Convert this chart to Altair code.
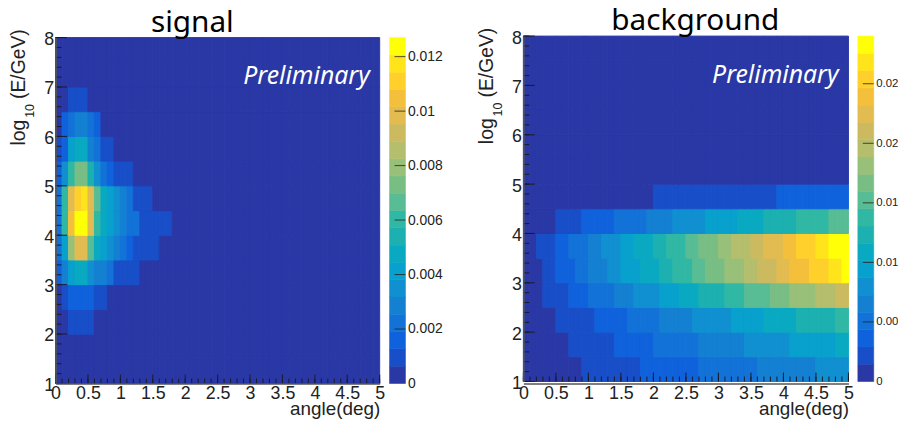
import altair as alt
import pandas as pd

# ---- palette of the 20 contour levels (bottom to top of the colour bar)
palette = ["#2A38A6", "#184FC8", "#1062DC", "#1272D8", "#1480D2", "#1090D0", "#08A0CC", "#0AA9C2",
           "#1CB0B0", "#30B8A4", "#58BC94", "#78BE84", "#98C078", "#B4BE6C", "#CCBA60", "#E2BC50",
           "#F4C03C", "#FFD02C", "#FFE41C", "#FFFF08"]

# ---- signal: colour level of each 0.1 deg column, one list per 0.5 wide energy row (rest of row is level 0)
sig_2_0 = [0, 0, 1, 1, 1, 1]
sig_2_5 = [0, 1, 2, 2, 2, 2, 1, 1]
sig_3_0 = [2, 4, 6, 7, 7, 5, 4, 4, 3, 1, 1, 1, 1]
sig_3_5 = [3, 6, 12, 15, 15, 10, 7, 6, 5, 4, 3, 2, 1, 1, 1, 1]
sig_4_0 = [3, 9, 16, 19, 19, 15, 9, 7, 6, 5, 4, 3, 3, 1, 1, 1, 1, 1]
sig_4_5 = [3, 9, 15, 17, 18, 15, 10, 7, 6, 5, 4, 3, 1, 1, 1]
sig_5_0 = [2, 5, 9, 11, 11, 8, 5, 3, 2, 1, 1, 1]
sig_5_5 = [1, 2, 6, 7, 7, 4, 3, 1, 1]
sig_6_0 = [0, 2, 3, 4, 4, 3, 2]
sig_6_5 = [0, 0, 1, 1, 1]
signal_rows = {2.0: sig_2_0, 2.5: sig_2_5, 3.0: sig_3_0, 3.5: sig_3_5, 4.0: sig_4_0, 4.5: sig_4_5,
               5.0: sig_5_0, 5.5: sig_5_5, 6.0: sig_6_0, 6.5: sig_6_5}

# ---- background: same layout
bkg_1_0 = [0]*9 + [1]*9 + [2]*9 + [3]*9 + [4]*9 + [5]*5
bkg_1_5 = [0]*7 + [1]*7 + [2]*6 + [3]*7 + [4]*7 + [5]*7 + [6]*7 + [7]*2
bkg_2_0 = [0]*5 + [1]*6 + [2]*5 + [3]*5 + [4]*5 + [5]*6 + [6]*5 + [7]*5 + [8]*6 + [9]*2
bkg_2_5 = [0]*3 + [1]*4 + [2]*3 + [3]*4 + [4]*3 + [5]*4 + [6]*3 + [7]*3 + [8]*4 + [9]*3 + [10]*4 + [11]*3 + [12]*4 + [13]*3 + [14]*2
bkg_3_0 = [0]*3 + [1]*2 + [2]*3 + [3]*2 + [4]*3 + [5]*2 + [6]*3 + [7]*3 + [8]*2 + [9]*3 + [10]*2 + [11]*3 + [12]*3 + [13]*2 + [14]*3 + [15]*2 + [16]*3 + [17]*3 + [18]*2 + [19]*1
bkg_3_5 = [0]*2 + [1]*3 + [2]*2 + [3]*3 + [4]*2 + [5]*3 + [6]*2 + [7]*3 + [8]*2 + [9]*3 + [10]*2 + [11]*3 + [12]*2 + [13]*3 + [14]*2 + [15]*3 + [16]*2 + [17]*3 + [18]*2 + [19]*3
bkg_4_0 = [0]*5 + [1]*4 + [2]*5 + [3]*5 + [4]*4 + [5]*5 + [6]*5 + [7]*4 + [8]*5 + [9]*5 + [10]*3
bkg_4_5 = [0]*20 + [1]*19 + [2]*11
background_rows = {1.0: bkg_1_0, 1.5: bkg_1_5, 2.0: bkg_2_0, 2.5: bkg_2_5, 3.0: bkg_3_0, 3.5: bkg_3_5,
                   4.0: bkg_4_0, 4.5: bkg_4_5}

signal_max = 0.0127
background_max = 0.029
signal_ticks = [0, 0.002, 0.004, 0.006, 0.008, 0.01, 0.012]
signal_tick_labels = ["0", "0.002", "0.004", "0.006", "0.008", "0.01", "0.012"]
background_ticks = [0, 0.005, 0.01, 0.015, 0.02, 0.025]
background_tick_labels = ["0", "0.00", "0.01", "0.01", "0.02", "0.02"]

x_major = [0, 0.5, 1, 1.5, 2, 2.5, 3, 3.5, 4, 4.5, 5]
x_minor = [i / 10 for i in range(51)]
y_major = [1, 2, 3, 4, 5, 6, 7, 8]
y_minor = [1 + i / 5 for i in range(36)]

SANS = "Liberation Sans"
INK = "#222222"
PH = 351


def cells(rows, vmax):
    recs = []
    for yi in range(14):
        low = 1 + yi * 0.5
        row = rows.get(low, [])
        for xi in range(50):
            level = row[xi] if xi < len(row) else 0
            recs.append({"a0": xi / 10, "a1": (xi + 1) / 10, "e0": low, "e1": low + 0.5,
                         "v": (level + 0.5) * vmax / 20})
    return pd.DataFrame(recs)


def label(text, x, y, **kw):
    return alt.Chart(pd.DataFrame({"t": [text]})).mark_text(**kw).encode(
        text="t:N", x=alt.value(x), y=alt.value(y))


def panel(rows, vmax, y_range, width, title, title_x):
    xs = alt.Scale(domain=[0, 5], nice=False, zero=False)
    ys = alt.Scale(domain=[1, 8], nice=False, zero=False, range=y_range)
    cs = alt.Scale(type="quantize", domain=[0, vmax], range=palette)
    xa = alt.Axis(
        title="angle(deg)", titleFont=SANS, titleFontSize=19, titleFontWeight="normal", titleColor=INK,
        titleAnchor="end", titleAlign="right", titleX=width, titleY=31, titleBaseline="alphabetic",
        labelFont=SANS, labelFontSize=18, labelColor=INK, labelPadding=1, labelOverlap=False,
        labelFlush=False, values=x_major, ticks=False, grid=False, domainColor="#555555", domainWidth=1.5,
        format="~g", zindex=1)
    ya = alt.Axis(
        title=None, labelFont=SANS, labelFontSize=18, labelColor=INK, labelPadding=2, labelOffset=2,
        values=y_major, ticks=False, grid=False, domainColor="#555555", domainWidth=1.5, format="d",
        labelFlush=False, zindex=1)
    heat = alt.Chart(cells(rows, vmax)).mark_rect(strokeWidth=1, opacity=1).encode(
        x=alt.X("a0:Q", scale=xs, axis=xa),
        x2="a1:Q",
        y=alt.Y("e0:Q", scale=ys, axis=ya),
        y2="e1:Q",
        color=alt.Color("v:Q", scale=cs, legend=None),
        stroke=alt.Stroke("v:Q", scale=cs, legend=None),
    )

    def xticks(vals, length):
        return alt.Chart(pd.DataFrame({"p": vals})).mark_rule(color="#1a1a2a", strokeWidth=1).encode(
            x=alt.X("p:Q", scale=xs, axis=xa), y=alt.value(y_range[0]), y2=alt.value(y_range[0] - length))

    def yticks(vals, length):
        return alt.Chart(pd.DataFrame({"p": vals})).mark_rule(color="#1a1a2a", strokeWidth=1).encode(
            y=alt.Y("p:Q", scale=ys, axis=ya), x=alt.value(0), x2=alt.value(length))

    base = y_range[1] - 2
    return alt.layer(
        heat,
        xticks(x_minor, 5), xticks(x_major, 9),
        yticks(y_minor, 6), yticks(y_major, 11.5),
        label("Preliminary", width - 10, base + 49, font="Noto Sans", fontStyle="italic", fontSize=25,
              color="white", align="right", baseline="alphabetic"),
        label(title, title_x, base - 4, font="Noto Sans", fontSize=30, color="black", align="center",
              baseline="alphabetic"),
        label("log", -30.5, base + 111, font=SANS, fontSize=19.5, color=INK, angle=270, align="left",
              baseline="alphabetic"),
        label("10", -21.5, base + 83, font=SANS, fontSize=12.5, color=INK, angle=270, align="left",
              baseline="alphabetic"),
        label("(E/GeV)", -30.5, base + 64, font=SANS, fontSize=19.5, color=INK, angle=270, align="left",
              baseline="alphabetic"),
    ).properties(width=width, height=PH)


def colourbar(vmax, y_range, ticks, tick_labels, label_size):
    expr = "[" + ",".join("'%s'" % s for s in tick_labels) + "][indexof(%s, datum.value)]" % (
        "[" + ",".join(str(t) for t in ticks) + "]")
    ys = alt.Scale(domain=[0, vmax], nice=False, zero=False, range=y_range)
    cs = alt.Scale(type="quantize", domain=[0, vmax], range=palette)
    ya = alt.Axis(
        title=None, orient="right", values=ticks, labelExpr=expr, ticks=False, domain=False, grid=False,
        labelFont=SANS, labelFontSize=label_size, labelColor=INK, labelPadding=2, labelFlush=False)
    bands = pd.DataFrame({"b0": [i * vmax / 20 for i in range(20)],
                          "b1": [(i + 1) * vmax / 20 for i in range(20)]})
    bands["v"] = (bands.b0 + bands.b1) / 2
    bar = alt.Chart(bands).mark_rect(strokeWidth=0.6).encode(
        y=alt.Y("b0:Q", scale=ys, axis=ya),
        y2="b1:Q",
        x=alt.value(0), x2=alt.value(16),
        color=alt.Color("v:Q", scale=cs, legend=None),
        stroke=alt.Stroke("v:Q", scale=cs, legend=None),
    )
    marks = alt.Chart(pd.DataFrame({"p": ticks[1:]})).mark_rule(color="#222222", opacity=0.8, strokeWidth=1).encode(
        y=alt.Y("p:Q", scale=ys, axis=ya), x=alt.value(5), x2=alt.value(16))
    return alt.layer(bar, marks).properties(width=16, height=PH)


left = alt.hconcat(
    panel(signal_rows, signal_max, [351, 2], 327, "signal", 138),
    colourbar(signal_max, [351, 2], signal_ticks, signal_tick_labels, 14),
    spacing=3,
).resolve_scale(color="independent", stroke="independent")
right = alt.hconcat(
    panel(background_rows, background_max, [349, 0.5], 328, "background", 173.5),
    colourbar(background_max, [349, 0.5], background_ticks, background_tick_labels, 11.5),
    spacing=2.5,
).resolve_scale(color="independent", stroke="independent")

chart = alt.hconcat(left, right, spacing=34).resolve_scale(
    color="independent", stroke="independent"
).properties(padding={"left": 1, "top": -4, "right": 0, "bottom": 0}, background="white").configure_view(stroke=None)

chart.save("out.html", embed_options={"renderer": "svg", "actions": False})
